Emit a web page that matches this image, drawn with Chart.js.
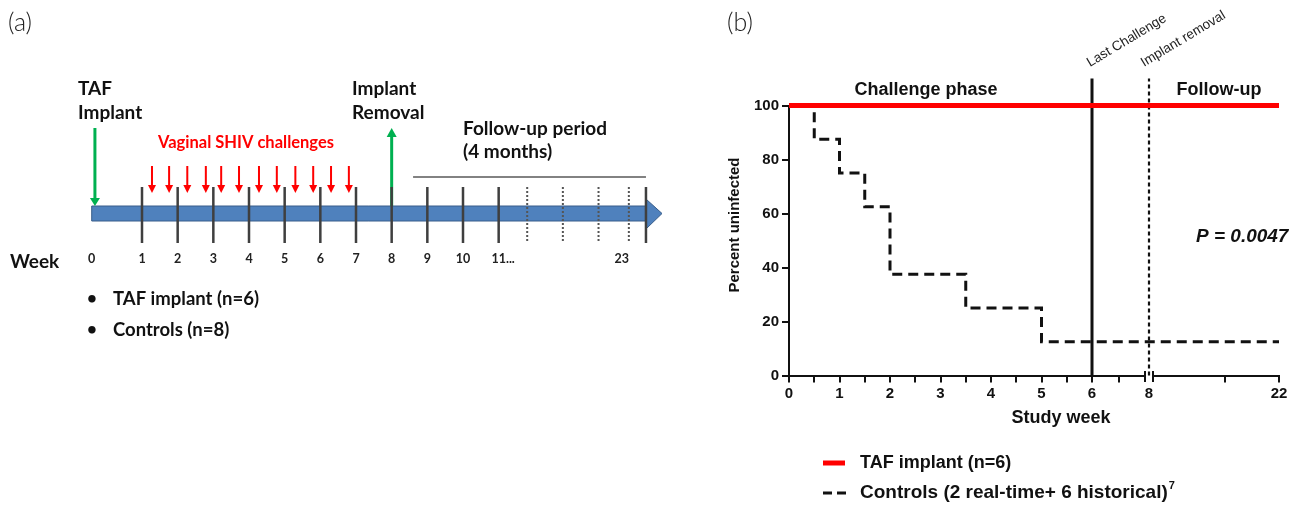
<!DOCTYPE html>
<html><head><meta charset="utf-8">
<script src="https://cdn.jsdelivr.net/npm/chart.js@4.4.1/dist/chart.umd.min.js"></script>
<style>
html,body{margin:0;padding:0;background:#fff;width:1299px;height:508px;overflow:hidden}
#wa{position:absolute;left:0;top:0;width:700px;height:508px}
#wb{position:absolute;left:700px;top:0;width:599px;height:508px}
canvas{display:block}
</style></head><body>
<div id="wa"><canvas id="ca" width="700" height="508"></canvas></div>
<div id="wb"><canvas id="cb" width="599" height="508"></canvas></div>
<script>
// ================= DATA =================
// Panel (b): Kaplan-Meier
const kmWeeks      = [0, 0.5, 1, 1.5, 2, 3.5, 5, 22];
const controlPct   = [100, 87.5, 75, 62.5, 37.5, 25, 12.5, 12.5];
const tafWeeks     = [0, 22];
const tafPct       = [100, 100];
const eventWeeks   = [6, 8];
const eventLabels  = ['Last Challenge', 'Implant removal'];
const eventTop     = 110;
const xMajorTicks  = [0, 1, 2, 3, 4, 5, 6, 8, 22];
const xMinorTicks  = [0.5, 1.5, 2.5, 3.5, 4.5, 5.5, 7, 16];
const seriesNames  = ['TAF implant (n=6)', 'Controls (2 real-time+ 6 historical)'];
const pValueText   = 'P = 0.0047';

// Panel (a): study timeline (schematic week positions)
const weekTicks       = [1, 2, 3, 4, 5, 6, 7, 8, 9, 10, 11];
const compressedTicks = [11.8, 12.8, 13.8, 14.65];
const timelineStart   = -0.41;
const timelineEnd     = 15.13;
const timelineTip     = 15.58;
const challengeWeeks  = [1.28, 1.76, 2.27, 2.79, 3.22, 3.72, 4.28, 4.78, 5.3, 5.8, 6.3, 6.8];
const implantWeek     = -0.32;
const removalWeek     = 8;
const followStart     = 8.6;
const weekLabels      = ['0','1','2','3','4','5','6','7','8','9','10','11...','23'];
const weekLabelPos    = [-0.41, 1, 2, 3, 4, 5, 6, 7, 8, 9, 10, 11, 14.45];

// ================= PANEL (a) =================
const A = {barTop:206, barBot:221, headTop:199, headBot:229, tickTop:187, tickBot:243,
           chalTop:166, chalTip:193, greenTop:128, greenBot:206, followY:177};
const FA = 'Lato, "Open Sans", sans-serif';
function txt(ctx, s, x, y, font, color, align, base){
  ctx.font = font; ctx.fillStyle = color; ctx.textAlign = align || 'left';
  ctx.textBaseline = base || 'middle'; ctx.fillText(s, x, y);
}
function vSegs(xs, y0, y1){ const d=[]; xs.forEach(w=>{ d.push({x:w,y:y0},{x:w,y:y1},{x:w,y:null}); }); return d; }

const timelinePlugin = {
  id:'timeline',
  beforeDatasetsDraw(chart){
    const {ctx, scales:{x, y}} = chart;
    const X = v => x.getPixelForValue(v), Y = v => y.getPixelForValue(v);
    ctx.save();
    const x0 = X(timelineStart), x1 = X(timelineEnd);
    ctx.fillStyle = '#4F81BD'; ctx.strokeStyle = '#385D8A'; ctx.lineWidth = 1;
    ctx.beginPath(); ctx.rect(x0, Y(A.barTop), x1 - x0, Y(A.barBot) - Y(A.barTop)); ctx.fill(); ctx.stroke();
    ctx.beginPath(); ctx.moveTo(x1, Y(A.headTop)); ctx.lineTo(X(timelineTip), Y((A.barTop + A.barBot) / 2));
    ctx.lineTo(x1, Y(A.headBot)); ctx.closePath(); ctx.fill(); ctx.stroke();
    ctx.strokeStyle = '#595959'; ctx.lineWidth = 1.5;
    ctx.beginPath(); ctx.moveTo(X(followStart), Y(A.followY)); ctx.lineTo(X(timelineEnd), Y(A.followY)); ctx.stroke();
    ctx.strokeStyle = '#00B050'; ctx.fillStyle = '#00B050'; ctx.lineWidth = 3;
    let gx = X(implantWeek);
    ctx.beginPath(); ctx.moveTo(gx, Y(A.greenTop)); ctx.lineTo(gx, Y(A.greenBot) - 7); ctx.stroke();
    ctx.beginPath(); ctx.moveTo(gx - 5, Y(A.greenBot) - 8); ctx.lineTo(gx + 5, Y(A.greenBot) - 8); ctx.lineTo(gx, Y(A.greenBot)); ctx.closePath(); ctx.fill();
    gx = X(removalWeek);
    ctx.beginPath(); ctx.moveTo(gx, Y(A.greenBot)); ctx.lineTo(gx, Y(A.greenTop) + 7); ctx.stroke();
    ctx.beginPath(); ctx.moveTo(gx - 5, Y(A.greenTop) + 9); ctx.lineTo(gx + 5, Y(A.greenTop) + 9); ctx.lineTo(gx, Y(A.greenTop)); ctx.closePath(); ctx.fill();
    ctx.restore();
  },
  afterDatasetsDraw(chart){
    const {ctx, scales:{x, y}} = chart;
    const X = v => x.getPixelForValue(v), Y = v => y.getPixelForValue(v);
    ctx.save();
    ctx.fillStyle = '#FF0000';
    challengeWeeks.forEach(w => {
      const px = X(w);
      ctx.beginPath(); ctx.moveTo(px - 4, Y(A.chalTip) - 8); ctx.lineTo(px + 4, Y(A.chalTip) - 8); ctx.lineTo(px, Y(A.chalTip)); ctx.closePath(); ctx.fill();
    });
    const NF = 'bold 12.5px ' + FA;
    weekLabels.forEach((s, i) => {
      const px = X(weekLabelPos[i]);
      ctx.font = NF;
      if (s.endsWith('...')) {
        const core = s.replace(/\.+$/, '');
        const w = ctx.measureText(core).width;
        txt(ctx, s, px - w / 2, 259, NF, '#222', 'left');
      } else {
        txt(ctx, s, px, 259, NF, '#222', 'center');
      }
    });
    const B = 'bold 19px ' + FA;
    txt(ctx, '(a)', 8, 23, '300 25px ' + FA, '#222');
    txt(ctx, 'TAF', 78, 89, B, '#111');
    txt(ctx, 'Implant', 78, 113, B, '#111');
    txt(ctx, 'Implant', 352, 89, B, '#111');
    txt(ctx, 'Removal', 352, 113, B, '#111');
    txt(ctx, 'Vaginal SHIV challenges', 158, 143, 'bold 16.5px ' + FA, '#FF0000');
    txt(ctx, 'Follow-up period', 463, 129, B, '#111');
    txt(ctx, '(4 months)', 463, 152, B, '#111');
    txt(ctx, 'Week', 10, 262, B, '#111');
    txt(ctx, '\u2022', 92, 299, 'bold 17px ' + FA, '#111', 'center');
    txt(ctx, '\u2022', 92, 330, 'bold 17px ' + FA, '#111', 'center');
    txt(ctx, 'TAF implant (n=6)', 113, 299, 'bold 18.5px ' + FA, '#111');
    txt(ctx, 'Controls (n=8)', 113, 330, 'bold 18.5px ' + FA, '#111');
    ctx.restore();
  }
};

new Chart(document.getElementById('ca'), {
  type: 'line',
  data: { datasets: [
    { label:'challenges', data: vSegs(challengeWeeks, A.chalTop, A.chalTip - 5), borderColor:'#FF0000', borderWidth:2, pointRadius:0, spanGaps:false },
    { label:'weeks', data: vSegs(weekTicks.concat([timelineEnd]), A.tickTop, A.tickBot), borderColor:'#3f3f3f', borderWidth:2.5, pointRadius:0, spanGaps:false },
    { label:'compressed', data: vSegs(compressedTicks, A.tickTop, A.tickBot), borderColor:'#555555', borderWidth:2, borderDash:[2,2], pointRadius:0, spanGaps:false }
  ]},
  options: {
    responsive:false, animation:false, devicePixelRatio:1,
    layout:{ padding:{ left:35, right:23, top:0, bottom:0 } },
    scales:{ x:{ type:'linear', min:-2, max:16, display:false },
             y:{ type:'linear', min:0, max:508, reverse:true, display:false } },
    plugins:{ legend:{display:false}, tooltip:{enabled:false} }
  },
  plugins:[timelinePlugin]
});

// ================= PANEL (b) =================
const FB = '"Liberation Sans", Arial, sans-serif';
function weekToAxis(w){
  if (w <= 6) return w * 50.5;
  if (w < 8) return 303 + (w - 6) * 26.5;
  if (w === 8) return 360;
  return 364 + (w - 8) * 9;
}
const BREAK_L = 356, BREAK_R = 364;
const allXTicks = xMajorTicks.map(w => ({w, label:String(w), brk: w === 8}))
  .concat(xMinorTicks.map(w => ({w, label:'', brk:false})));

const annotB = {
  id:'annotB',
  afterDraw(chart){
    const {ctx, chartArea:ca, scales:{x, y}} = chart;
    ctx.save();
    const yb = Math.round(ca.bottom);
    ctx.strokeStyle = '#111'; ctx.lineWidth = 2; ctx.lineCap = 'butt';
    ctx.beginPath();
    ctx.moveTo(x.getPixelForValue(0) - 1, yb); ctx.lineTo(x.getPixelForValue(BREAK_L), yb);
    ctx.moveTo(x.getPixelForValue(BREAK_R), yb); ctx.lineTo(x.getPixelForValue(weekToAxis(22)) + 1, yb);
    [BREAK_L, BREAK_R].forEach(u => { const px = x.getPixelForValue(u); ctx.moveTo(px, yb - 5); ctx.lineTo(px, yb + 6); });
    ctx.stroke();
    txt(ctx, '(b)', 27, 23, '300 25px ' + FA, '#222');
    const H = 'bold 18px ' + FB;
    txt(ctx, 'Challenge phase', 226, 90, H, '#111', 'center');
    txt(ctx, 'Follow-up', 519, 90, H, '#111', 'center');
    eventWeeks.forEach((w, i) => {
      const px = x.getPixelForValue(weekToAxis(w));
      ctx.save(); ctx.translate(px - 2 - i * 3, 67); ctx.rotate(-31 * Math.PI / 180);
      txt(ctx, eventLabels[i], 0, 0, '13.5px ' + FB, '#222', 'left', 'alphabetic');
      ctx.restore();
    });
    txt(ctx, pValueText, 496, 237, 'italic bold 19px ' + FB, '#111');
    ctx.save(); ctx.translate(35, 225); ctx.rotate(-Math.PI / 2);
    txt(ctx, 'Percent uninfected', 0, 0, 'bold 15px ' + FB, '#111', 'center');
    ctx.restore();
    txt(ctx, 'Study week', 361, 418, H, '#111', 'center');
    const ds = chart.data.datasets;
    ctx.strokeStyle = ds[0].borderColor; ctx.lineWidth = 5; ctx.setLineDash([]);
    ctx.beginPath(); ctx.moveTo(123, 463); ctx.lineTo(145, 463); ctx.stroke();
    txt(ctx, seriesNames[0], 160, 463, 'bold 18px ' + FB, '#111');
    ctx.strokeStyle = ds[1].borderColor; ctx.lineWidth = 3; ctx.setLineDash([9, 5]);
    ctx.beginPath(); ctx.moveTo(123, 493); ctx.lineTo(146, 493); ctx.stroke();
    ctx.setLineDash([]);
    const L2 = 'bold 19px ' + FB;
    txt(ctx, seriesNames[1], 160, 493, L2, '#111');
    ctx.font = L2; const wd = ctx.measureText(seriesNames[1]).width;
    txt(ctx, '7', 160 + wd + 1, 486, 'bold 11px ' + FB, '#111');
    ctx.restore();
  }
};

new Chart(document.getElementById('cb'), {
  type: 'line',
  data: { datasets: [
    { label: seriesNames[0], data: tafWeeks.map((w, i) => ({x: weekToAxis(w), y: tafPct[i]})),
      borderColor:'#FF0000', borderWidth:5, pointRadius:0, clip:false, borderCapStyle:'butt' },
    { label: seriesNames[1], data: kmWeeks.map((w, i) => ({x: weekToAxis(w), y: controlPct[i]})),
      borderColor:'#111111', borderWidth:3, borderDash:[10,6], stepped:'before', pointRadius:0, clip:false },
    { label: eventLabels[0], data: [{x: weekToAxis(eventWeeks[0]), y:0}, {x: weekToAxis(eventWeeks[0]), y:eventTop}],
      borderColor:'#111111', borderWidth:3, pointRadius:0, clip:false },
    { label: eventLabels[1], data: [{x: weekToAxis(eventWeeks[1]), y:0}, {x: weekToAxis(eventWeeks[1]), y:eventTop}],
      borderColor:'#111111', borderWidth:2.2, borderDash:[4,3], pointRadius:0, clip:false }
  ]},
  options: {
    responsive:false, animation:false, devicePixelRatio:1,
    layout:{ padding:{ left:29, right:20, top:105.5, bottom:92.5 } },
    scales:{
      x:{ type:'linear', min:0, max:weekToAxis(22),
          afterBuildTicks: s => { s.ticks = allXTicks.map(t => ({value: weekToAxis(t.w), brk: t.brk})); },
          afterFit: s => { s.height = 40; },
          border:{ display:false },
          grid:{ drawOnChartArea:false, tickLength:7, lineWidth:2, tickWidth:2,
                 tickColor: c => (c.tick && c.tick.brk) ? 'rgba(0,0,0,0)' : '#111' },
          ticks:{ autoSkip:false, maxRotation:0, padding:2, color:'#111',
                  font:{ family:FB, size:15, weight:'bold' },
                  callback: (v, i) => allXTicks[i] ? allXTicks[i].label : '' } },
      y:{ type:'linear', min:0, max:100,
          afterFit: s => { s.width = 60; },
          border:{ display:true, color:'#111', width:2 },
          grid:{ drawOnChartArea:false, tickLength:7, lineWidth:2, tickWidth:2, tickColor:'#111' },
          ticks:{ stepSize:20, padding:3, color:'#111', font:{ family:FB, size:15, weight:'bold' } } }
    },
    plugins:{ legend:{display:false}, tooltip:{enabled:false} }
  },
  plugins:[annotB]
});
</script>
</body></html>
